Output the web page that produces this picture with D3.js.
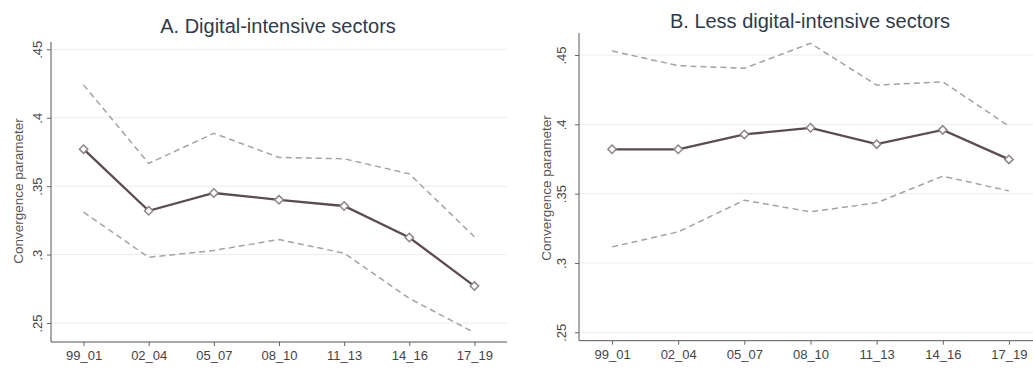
<!DOCTYPE html>
<html>
<head>
<meta charset="utf-8">
<script src="https://cdn.jsdelivr.net/npm/d3@7/dist/d3.min.js"></script>
<style>
  html, body { margin: 0; padding: 0; background: #fff; }
  svg { display: block; font-family: "Liberation Sans", Arial, sans-serif; }
</style>
</head>
<body>
<svg id="chart" width="1033" height="370"></svg>
<script>
// Periods on the x axis
const periods = ["99_01", "02_04", "05_07", "08_10", "11_13", "14_16", "17_19"];
// Y-axis ticks and their labels
const yTicks = [0.25, 0.3, 0.35, 0.4, 0.45];
const yTickLabels = [".25", ".3", ".35", ".4", ".45"];

// Panel A: digital-intensive sectors
const digitalEstimate = [0.377, 0.332, 0.345, 0.340, 0.3355, 0.3125, 0.277];
const digitalUpper    = [0.424, 0.3666, 0.3886, 0.371, 0.370, 0.359, 0.313];
const digitalLower    = [0.331, 0.298, 0.303, 0.311, 0.301, 0.268, 0.243];

// Panel B: less digital-intensive sectors
const lessEstimate = [0.382, 0.382, 0.3927, 0.3975, 0.3857, 0.396, 0.3747];
const lessUpper    = [0.4529, 0.4423, 0.4404, 0.4584, 0.4283, 0.4307, 0.3987];
const lessLower    = [0.3116, 0.3224, 0.3453, 0.3369, 0.3434, 0.3626, 0.352];

const panels = [
  { title: "A. Digital-intensive sectors", est: digitalEstimate, up: digitalUpper, lo: digitalLower,
    x0: 51, x1: 507, yTop: 42, yBottom: 342, y25: 323, y45: 49.3,
    titleX: 278, titleY: 33, tickLabelX: 37, axisTitleX: 18, axisTitleY: 191 },
  { title: "B. Less digital-intensive sectors", est: lessEstimate, up: lessUpper, lo: lessLower,
    x0: 579, x1: 1042, yTop: 33, yBottom: 340.7, y25: 332.3, y45: 55,
    titleX: 810, titleY: 28, tickLabelX: 561, axisTitleX: 546, axisTitleY: 188 }
];

const svg = d3.select("#chart");

panels.forEach(p => {
  const g = svg.append("g");
  const x = d3.scalePoint().domain(periods).range([p.x0, p.x1]).padding(0.5);
  const y = d3.scaleLinear().domain([0.25, 0.45]).range([p.y25, p.y45]);

  // faint horizontal gridlines
  g.selectAll("line.grid").data(yTicks).enter().append("line")
    .attr("x1", p.x0 + 1).attr("x2", p.x1)
    .attr("y1", d => y(d)).attr("y2", d => y(d))
    .attr("stroke", "#ececec").attr("stroke-width", 1);

  // y axis
  const yAxis = d3.axisLeft(y).tickValues(yTicks).tickSize(4)
    .tickFormat((d, i) => yTickLabels[i]);
  const ya = g.append("g").attr("transform", `translate(${p.x0},0)`).call(yAxis);
  ya.select(".domain").remove();
  ya.selectAll(".tick line").attr("stroke", "#666");
  ya.selectAll(".tick text")
    .attr("x", null)
    .attr("text-anchor", "middle")
    .attr("fill", "#444")
    .style("font-size", "13px")
    .attr("transform", `translate(${p.tickLabelX - p.x0},0) rotate(-90)`)
    .attr("dy", "0.35em");
  g.append("line")
    .attr("x1", p.x0).attr("x2", p.x0)
    .attr("y1", p.yTop).attr("y2", p.yBottom)
    .attr("stroke", "#555").attr("stroke-width", 1);

  // x axis
  const xAxis = d3.axisBottom(x).tickSize(4).tickPadding(5);
  const xa = g.append("g").attr("transform", `translate(0,${p.yBottom})`).call(xAxis);
  xa.select(".domain").remove();
  xa.selectAll(".tick line").attr("stroke", "#666");
  xa.selectAll(".tick text").attr("fill", "#444").style("font-size", "13px");
  g.append("line")
    .attr("x1", p.x0).attr("x2", p.x1)
    .attr("y1", p.yBottom).attr("y2", p.yBottom)
    .attr("stroke", "#555").attr("stroke-width", 1);

  // axis title
  g.append("text")
    .attr("transform", `translate(${p.axisTitleX},${p.axisTitleY}) rotate(-90)`)
    .attr("text-anchor", "middle")
    .attr("dy", "0.35em")
    .attr("fill", "#555")
    .style("font-size", "13.5px")
    .text("Convergence parameter");

  // panel title
  g.append("text")
    .attr("x", p.titleX).attr("y", p.titleY)
    .attr("text-anchor", "middle")
    .attr("fill", "#2f3a4c")
    .style("font-size", "20px")
    .text(p.title);

  const line = d3.line().x((d, i) => x(periods[i])).y(d => y(d));

  // confidence bounds
  [p.up, p.lo].forEach(arr => {
    g.append("path").datum(arr)
      .attr("d", line)
      .attr("fill", "none")
      .attr("stroke", "#a3a3a3")
      .attr("stroke-width", 1.5)
      .attr("stroke-dasharray", "6,4");
  });

  // point estimate
  g.append("path").datum(p.est)
    .attr("d", line)
    .attr("fill", "none")
    .attr("stroke", "#5c4b52")
    .attr("stroke-width", 2.3);

  const diamond = d3.symbol().type(d3.symbolDiamond2 || d3.symbolDiamond).size(45);
  g.selectAll("path.marker").data(p.est).enter().append("path")
    .attr("class", "marker")
    .attr("d", diamond)
    .attr("transform", (d, i) => `translate(${x(periods[i])},${y(d)})`)
    .attr("fill", "#fff")
    .attr("stroke", "#8e8489")
    .attr("stroke-width", 1.5);
});
</script>
</body>
</html>
